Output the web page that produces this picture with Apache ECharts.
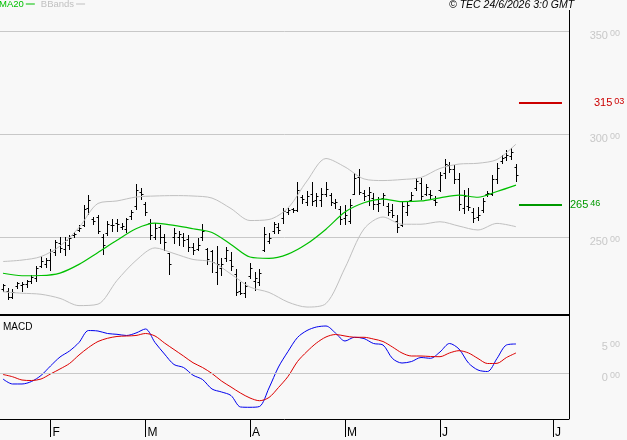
<!DOCTYPE html>
<html>
<head>
<meta charset="utf-8">
<script src="https://cdn.jsdelivr.net/npm/echarts@6/dist/echarts.min.js"></script>
<style>
html,body{margin:0;padding:0;background:#f8f8f8;}
#chart{width:627px;height:440px;}
</style>
</head>
<body>
<div id="chart"></div>
<script>
// 日线 OHLC
var opens = [225.0,224.0,221.0,226.0,226.5,227.0,228.5,230.0,236.0,237.0,
  239.0,242.5,247.0,244.0,246.0,251.0,253.5,256.0,264.0,258.5,
  259.5,250.0,252.0,256.0,257.0,255.0,254.0,260.0,265.0,272.0,
  266.0,257.0,250.0,255.0,250.0,242.0,250.0,250.0,250.0,249.0,
  245.0,244.0,250.0,244.0,243.0,233.0,235.0,240.0,239.0,232.0,
  224.0,223.0,231.0,228.5,228.0,243.5,248.0,253.0,255.0,259.0,
  262.0,263.5,263.0,269.5,267.0,271.0,268.0,268.0,271.0,270.5,
  266.5,263.5,259.0,258.0,271.0,279.0,271.5,270.5,269.0,266.0,
  269.0,265.0,263.0,258.0,256.0,262.0,268.0,274.0,276.0,271.0,
  271.0,268.0,273.0,281.0,285.0,283.0,278.0,264.0,265.0,262.0,
  259.5,263.0,271.0,271.0,278.0,287.0,289.0,289.5,284.0];
var highs = [227.2,225.2,224.8,228.2,228.2,229.1,231.6,235.9,240.8,239.8,
  244.2,248.5,250.0,250.0,251.0,252.4,255.8,265.5,270.4,259.7,
  260.7,251.5,257.8,258.7,258.7,256.8,259.2,263.1,275.7,273.8,
  267.0,258.7,256.8,255.8,251.5,242.2,254.4,252.9,251.9,251.0,
  247.1,249.5,256.3,244.7,243.7,245.6,239.8,245.1,242.7,234.5,
  228.2,228.2,237.4,233.0,234.5,254.9,251.9,257.3,256.8,264.1,
  264.1,264.1,276.7,270.4,272.3,276.7,271.4,273.8,276.7,271.4,
  268.4,265.0,265.5,268.4,281.1,283.0,272.8,274.3,271.4,269.4,
  271.4,266.5,266.0,260.7,267.0,267.5,271.8,278.6,278.6,275.7,
  272.8,269.9,281.6,287.9,286.4,284.9,281.1,272.8,273.8,264.1,
  264.6,268.9,272.3,280.1,285.9,289.8,292.2,293.2,285.4];
var lows = [223.8,219.9,220.4,225.2,223.8,225.7,227.7,228.6,235.4,235.4,
  234.0,241.3,242.7,241.3,244.2,250.0,252.9,255.3,261.2,256.3,
  251.9,241.7,251.0,252.9,252.9,253.9,252.4,258.7,263.6,268.4,
  260.7,249.0,249.0,247.1,243.7,232.0,247.1,246.1,245.6,243.2,
  241.7,243.7,248.5,236.9,233.0,227.2,231.6,238.3,234.0,221.8,
  222.3,220.9,230.1,224.3,226.7,243.2,247.1,251.9,251.9,256.8,
  261.2,262.1,262.6,266.5,265.5,265.5,265.0,265.0,269.9,265.5,
  264.1,256.3,256.3,256.8,270.9,270.9,268.0,265.5,263.6,262.6,
  265.5,260.7,259.7,252.4,255.3,260.7,267.5,272.8,268.4,270.4,
  268.4,265.5,272.3,278.6,281.6,276.2,263.1,261.6,263.1,257.3,
  258.3,262.1,269.9,270.4,276.2,285.9,287.4,287.9,277.2];
var closes = [226.5,221.0,223.5,227.5,227.0,228.5,230.5,235.0,238.5,239.0,
  243.0,247.5,244.5,248.5,249.5,251.5,254.5,263.5,268.0,258.0,
  253.0,246.0,256.5,256.0,256.5,255.5,258.5,262.0,273.0,271.0,
  262.0,251.0,254.5,250.0,247.5,237.0,252.0,251.5,248.5,245.0,
  243.5,246.0,253.0,239.5,238.0,237.0,237.0,243.5,236.0,223.5,
  223.0,226.0,235.0,230.0,232.5,251.5,249.5,256.5,253.5,262.5,
  263.0,263.0,273.0,268.5,270.0,267.5,270.0,271.0,273.5,267.0,
  267.0,258.5,260.5,265.5,278.5,272.0,270.0,272.0,266.0,266.5,
  270.5,262.0,260.5,255.0,265.0,265.5,270.5,277.0,270.0,274.5,
  270.5,267.0,280.0,285.5,283.0,278.0,266.0,270.0,264.5,259.0,
  260.5,267.5,271.5,278.0,283.5,288.5,290.0,291.5,280.0];

// MA20 / 布林带 (每4根K线取一个点)
var bandIdx = [0,4,8,12,16,20,24,28,32,36,40,44,48,52,56,60,64,68,72,76,80,84,88,92,96,100,104,108];
var ma20 = [232.4,231.2,231.3,232.5,236.7,242.5,248.4,254.0,256.7,255.6,254.0,252.2,246.4,240.3,
  239.6,241.7,246.7,253.8,262.1,266.6,268.4,267.2,267.5,269.0,270.3,269.3,272.1,275.2];
var bbUpper = [238.1,238.8,240.5,245.6,254.6,266.3,267.5,269.4,269.9,270.1,269.9,268.9,263.8,258.0,
  258.5,264.1,277.2,288.1,284.0,278.2,277.4,277.9,278.9,283.3,285.4,285.8,287.6,295.1];
var bbLower = [223.4,222.7,222.2,220.2,216.7,217.4,228.9,238.6,244.7,242.0,239.1,237.9,232.0,225.7,
  223.1,218.4,216.0,217.7,235.0,253.9,259.7,256.2,256.2,257.4,255.3,253.4,256.6,255.0];

// MACD (每2根K线取一个点)
var macdIdx = [];
for (var k = 0; k <= 108; k += 2) macdIdx.push(k);
var macd = [-0.97,-1.77,-1.77,-1.37,-0.40,1.13,2.58,3.55,4.92,6.85,
  6.77,6.37,6.24,6.05,6.45,7.10,4.92,3.06,1.37,0.89,
  -0.35,-1.05,-2.58,-3.06,-3.63,-5.48,-5.53,-5.40,-2.42,0.97,
  3.47,5.73,6.85,7.42,7.58,6.45,5.16,5.76,5.56,4.76,
  4.52,2.34,1.61,1.85,2.50,2.37,3.39,4.76,3.87,1.61,
  0.48,0.24,2.34,4.52,4.68];
var signal = [-0.24,-0.60,-1.13,-1.21,-0.97,-0.16,0.65,1.53,2.90,4.11,
  5.08,5.60,5.89,5.97,6.05,6.37,5.97,4.84,3.79,2.74,
  1.66,0.89,-0.08,-1.29,-2.26,-3.23,-4.03,-4.47,-3.95,-2.34,
  -0.56,1.85,3.47,4.84,5.81,6.21,5.97,5.76,5.76,5.48,
  5.08,4.19,3.23,2.74,2.74,2.66,2.63,3.23,3.60,3.23,
  2.34,1.53,1.56,2.50,3.23];

// 月份刻度 / 支撑阻力
var monthLabels = ['F','M','A','M','J','J'];
var monthPos = [10, 30, 52, 72, 92, 115.8];
var levelValues = [315.03, 265.46];
var levelColors = ['#cc0000', '#009900'];

var FONT = '"Liberation Sans", Arial, sans-serif';
var GRID_LINE = '#c8c8c8';

var ohlcData = opens.map(function (o, i) {
    return [i, o, highs[i], lows[i], closes[i]];
});
function pairs(idx, vals) {
    return idx.map(function (x, i) { return [x, vals[i]]; });
}
var lastIdx = opens.length - 1;

// 带小数上标的标签
function splitLabel(v) {
    var s = v.toFixed(2).split('.');
    return '{a|' + s[0] + '}{b|' + s[1] + '}';
}
function richFor(color, big) {
    return {
        a: { fontSize: big ? 11 : 10, color: color, fontFamily: FONT },
        b: { fontSize: 9, color: color, fontFamily: FONT, padding: [0, 0, 3, 2] }
    };
}

function renderOhlc(params, api) {
    var x = api.value(0);
    var po = api.coord([x, api.value(1)]);
    var ph = api.coord([x, api.value(2)]);
    var pl = api.coord([x, api.value(3)]);
    var pc = api.coord([x, api.value(4)]);
    var px = Math.round(po[0]) + 0.5;
    var yo = Math.round(po[1]) + 0.5;
    var yc = Math.round(pc[1]) + 0.5;
    var st = { stroke: '#000', lineWidth: 1 };
    return {
        type: 'group',
        children: [
            { type: 'line', shape: { x1: px, y1: Math.round(ph[1]), x2: px, y2: Math.round(pl[1]) + 1 }, style: st },
            { type: 'line', shape: { x1: px - 2, y1: yo, x2: px, y2: yo }, style: st },
            { type: 'line', shape: { x1: px, y1: yc, x2: px + 2, y2: yc }, style: st }
        ]
    };
}

var chart = echarts.init(document.getElementById('chart'));
var xMin = -0.63, xMax = 119.16;

var option = {
    backgroundColor: '#f8f8f8',
    animation: false,
    textStyle: { fontFamily: FONT },
    legend: {
        left: -1, top: -1, padding: 0,
        align: 'right', itemGap: 6,
        itemWidth: 9, itemHeight: 1, icon: 'rect',
        textStyle: { fontSize: 9.5, fontFamily: FONT, padding: [0, -3, 0, 0] },
        data: [
            { name: 'MA20', textStyle: { color: '#00c000' } },
            { name: 'BBands', textStyle: { color: '#c0c0c0' } }
        ]
    },
    grid: [
        { left: 0, top: 0, width: 569, height: 315 },
        { left: 0, top: 31, width: 569, height: 206 },
        { left: 0, top: 315, width: 569, height: 104 },
        { left: 0, top: 342, width: 569, height: 31 }
    ],
    xAxis: [
        { gridIndex: 0, type: 'value', min: xMin, max: xMax, show: false },
        { gridIndex: 1, type: 'value', min: 0, max: 1, show: false },
        {
            gridIndex: 2, type: 'value', min: xMin, max: xMax,
            axisLine: { show: true, onZero: false, lineStyle: { color: '#000', width: 1 } },
            axisTick: { show: true, length: 18, customValues: monthPos, lineStyle: { color: '#000' } },
            axisLabel: {
                customValues: monthPos, align: 'left', margin: 8, padding: [0, 0, 0, 2],
                fontSize: 12, color: '#000', fontFamily: FONT,
                formatter: function (v) { return monthLabels[monthPos.indexOf(v)]; }
            },
            splitLine: { show: false }
        },
        { gridIndex: 3, type: 'value', min: 0, max: 1, show: false }
    ],
    yAxis: [
        { gridIndex: 0, type: 'value', min: 212.136, max: 365.049, show: false },
        {
            gridIndex: 1, type: 'value', min: 250, max: 350, interval: 50, position: 'right',
            axisLine: { show: false }, axisTick: { show: false },
            splitLine: { show: true, lineStyle: { color: GRID_LINE, width: 1 } },
            axisLabel: {
                align: 'right', margin: 51, padding: [9, 0, 0, 0],
                formatter: splitLabel, rich: richFor('#c8c8c8', true)
            }
        },
        { gridIndex: 2, type: 'value', min: -7.419, max: 9.355, show: false },
        {
            gridIndex: 3, type: 'value', min: 0, max: 5, interval: 5, position: 'right',
            axisLine: { show: false }, axisTick: { show: false }, splitLine: { show: false },
            axisLabel: {
                align: 'right', margin: 51, padding: [9, 0, 0, 0],
                formatter: splitLabel, rich: richFor('#c8c8c8', true)
            }
        }
    ],
    series: [
        {
            name: 'OHLC', type: 'custom', xAxisIndex: 0, yAxisIndex: 0,
            renderItem: renderOhlc, data: ohlcData, silent: true
        },
        {
            name: 'BBands', type: 'line', xAxisIndex: 0, yAxisIndex: 0, data: pairs(bandIdx, bbUpper),
            showSymbol: false, symbol: 'none', smooth: 0.3, color: '#c0c0c0', lineStyle: { width: 1, color: '#c0c0c0' }
        },
        {
            name: 'BBands', type: 'line', xAxisIndex: 0, yAxisIndex: 0, data: pairs(bandIdx, bbLower),
            showSymbol: false, symbol: 'none', smooth: 0.3, color: '#c0c0c0', lineStyle: { width: 1, color: '#c0c0c0' }
        },
        {
            name: 'MA20', type: 'line', xAxisIndex: 0, yAxisIndex: 0, data: pairs(bandIdx, ma20),
            showSymbol: false, symbol: 'none', smooth: 0.3, color: '#00c000', lineStyle: { width: 1.2, color: '#00c000' }
        },
        {
            name: 'levels', type: 'line', xAxisIndex: 0, yAxisIndex: 0, data: [],
            markLine: {
                silent: true, symbol: 'none', animation: false,
                data: levelValues.map(function (v, k) {
                    return [{
                        coord: [lastIdx + 0.63, v],
                        lineStyle: { color: levelColors[k], width: 2, type: 'solid' },
                        label: {
                            show: true, position: 'end', distance: k === 0 ? 32 : 8,
                            formatter: function () { return splitLabel(v); },
                            rich: richFor(levelColors[k], true)
                        }
                    }, { coord: [lastIdx + 9.68, v] }];
                })
            }
        },
        {
            name: 'MACD', type: 'line', xAxisIndex: 2, yAxisIndex: 2, data: pairs(macdIdx, macd),
            showSymbol: false, symbol: 'none', smooth: 0.3, color: '#0000ee', lineStyle: { width: 1, color: '#0000ee' },
            markLine: {
                silent: true, symbol: 'none', animation: false,
                label: { show: false },
                lineStyle: { color: GRID_LINE, type: 'solid', width: 1 },
                data: [{ yAxis: 0 }]
            }
        },
        {
            name: 'Signal', type: 'line', xAxisIndex: 2, yAxisIndex: 2, data: pairs(macdIdx, signal),
            showSymbol: false, symbol: 'none', smooth: 0.3, color: '#dd0000', lineStyle: { width: 1, color: '#dd0000' }
        }
    ],
    graphic: [
        { type: 'line', silent: true, shape: { x1: 569.5, y1: 10, x2: 569.5, y2: 419 }, style: { stroke: '#000', lineWidth: 1 } },
        { type: 'line', silent: true, shape: { x1: 0, y1: 315, x2: 570, y2: 315 }, style: { stroke: '#000', lineWidth: 2 } },
        {
            type: 'text', silent: true, x: 449, y: 5,
            style: { text: '\u00a9 TEC 24/6/2026 3:0 GMT', font: 'italic 10.5px ' + FONT, fill: '#000', verticalAlign: 'middle' }
        },
        {
            type: 'text', silent: true, x: 3, y: 327.5,
            style: { text: 'MACD', font: '10px ' + FONT, fill: '#000', verticalAlign: 'middle' }
        }
    ]
};
chart.setOption(option);
</script>
</body>
</html>
